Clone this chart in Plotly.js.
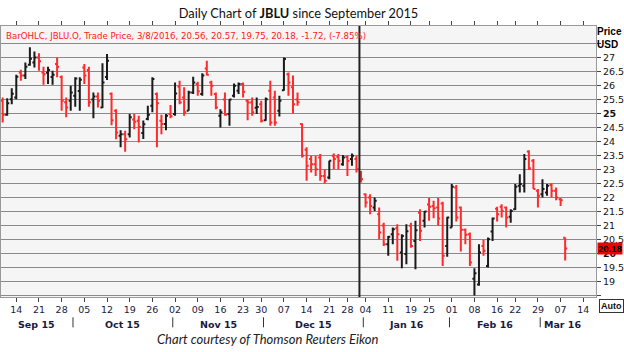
<!DOCTYPE html>
<html>
<head>
<meta charset="utf-8">
<script src="https://cdn.plot.ly/plotly-3.0.1.min.js"></script>
<style>html,body{margin:0;padding:0;background:#fff}#chart{width:624px;height:352px}</style>
</head>
<body>
<div id="chart"></div>
<script>
// Trading sessions (category x axis)
const dates = [
'2015-09-09','2015-09-10','2015-09-11','2015-09-14','2015-09-15','2015-09-16','2015-09-17','2015-09-18',
'2015-09-21','2015-09-22','2015-09-23','2015-09-24','2015-09-25','2015-09-28','2015-09-29','2015-09-30',
'2015-10-01','2015-10-02','2015-10-05','2015-10-06','2015-10-07','2015-10-08','2015-10-09',
'2015-10-12','2015-10-13','2015-10-14','2015-10-15','2015-10-16','2015-10-19','2015-10-20','2015-10-21','2015-10-22','2015-10-23',
'2015-10-26','2015-10-27','2015-10-28','2015-10-29','2015-10-30',
'2015-11-02','2015-11-03','2015-11-04','2015-11-05','2015-11-06','2015-11-09','2015-11-10','2015-11-11','2015-11-12','2015-11-13',
'2015-11-16','2015-11-17','2015-11-18','2015-11-19','2015-11-20','2015-11-23','2015-11-24','2015-11-25','2015-11-27','2015-11-30',
'2015-12-01','2015-12-02','2015-12-03','2015-12-04','2015-12-07','2015-12-08','2015-12-09','2015-12-10','2015-12-11',
'2015-12-14','2015-12-15','2015-12-16','2015-12-17','2015-12-18','2015-12-21','2015-12-22','2015-12-23','2015-12-24',
'2015-12-28','2015-12-29','2015-12-30','2015-12-31',
'2016-01-04','2016-01-05','2016-01-06','2016-01-07','2016-01-08','2016-01-11','2016-01-12','2016-01-13','2016-01-14','2016-01-15',
'2016-01-19','2016-01-20','2016-01-21','2016-01-22','2016-01-25','2016-01-26','2016-01-27','2016-01-28','2016-01-29',
'2016-02-01','2016-02-02','2016-02-03','2016-02-04','2016-02-05','2016-02-08','2016-02-09','2016-02-10','2016-02-11','2016-02-12',
'2016-02-16','2016-02-17','2016-02-18','2016-02-19','2016-02-22','2016-02-23','2016-02-24','2016-02-25','2016-02-26','2016-02-29',
'2016-03-01','2016-03-02','2016-03-03','2016-03-04','2016-03-07','2016-03-08'
];
const open = [
25.45,24.95,25.51,25.57,26.46,26.35,26.74,26.82,27.00,26.46,26.45,26.30,26.76,26.30,25.40,25.45,
25.63,25.80,26.64,26.55,25.50,25.60,25.21,26.30,25.70,25.10,24.20,24.26,24.26,24.78,24.74,24.30,24.80,
25.27,25.69,24.74,24.62,24.98,
24.98,25.95,25.57,25.10,25.75,26.05,25.69,26.60,26.10,25.69,24.92,25.50,24.98,25.63,25.81,26.05,25.45,25.39,25.20,25.33,
24.76,25.81,25.57,25.10,25.83,26.40,25.93,25.50,24.62,23.70,23.37,23.19,23.43,22.77,22.71,23.49,23.45,23.19,23.45,23.37,23.37,22.77,
22.12,22.00,21.64,21.40,21.00,20.33,20.69,20.90,20.04,19.98,20.99,20.45,21.46,21.17,21.75,21.70,21.64,21.79,20.27,
20.93,22.36,21.64,20.85,20.69,19.10,18.90,20.27,19.56,20.79,21.60,21.67,21.64,21.31,21.58,22.42,22.42,23.64,23.31,22.24,
22.12,22.18,22.45,22.24,21.94,20.56
];
const high = [
25.57,25.54,25.90,26.38,26.56,26.82,27.36,27.21,27.15,26.67,26.67,26.52,27.00,26.35,25.57,25.99,
26.29,26.29,26.76,26.67,25.75,25.75,26.79,27.12,25.75,25.15,24.40,24.38,24.98,24.98,24.92,24.75,25.27,
26.29,25.75,24.95,24.98,25.30,
26.10,26.17,25.93,25.81,26.31,26.13,26.43,26.88,26.17,25.75,25.15,25.75,25.51,26.07,26.10,26.10,25.51,25.57,25.57,25.45,
25.57,26.17,25.81,25.63,27.00,26.46,26.35,25.75,24.65,23.79,23.49,23.49,23.55,23.01,23.31,23.57,23.55,23.52,23.49,23.57,23.49,22.95,
22.14,22.12,22.00,21.64,21.10,20.63,20.93,21.05,20.69,21.05,21.10,21.17,21.58,21.52,21.98,21.88,21.98,21.85,21.31,
22.48,22.45,21.68,20.89,20.75,19.48,20.33,20.48,20.57,21.29,21.67,21.76,21.68,21.58,22.48,22.83,23.55,23.69,23.37,22.30,
22.65,22.48,22.51,22.36,21.98,20.57
];
const low = [
24.68,24.92,25.33,25.51,26.17,26.23,26.70,26.64,26.52,26.02,26.05,26.02,26.29,25.10,24.86,25.10,
25.24,25.10,26.05,25.24,24.83,25.21,25.19,26.19,24.58,24.08,23.79,23.63,24.14,24.44,23.96,24.09,24.76,
25.04,23.79,24.26,24.40,24.83,
24.92,25.33,24.92,25.10,25.69,25.63,25.63,26.35,25.63,25.15,24.50,24.92,24.56,25.57,25.69,25.57,24.76,24.92,24.98,24.68,
24.74,24.56,24.56,24.89,25.81,25.63,25.00,25.27,23.43,22.60,22.89,22.77,22.60,22.50,22.65,23.01,23.01,23.13,22.77,23.13,22.89,22.54,
21.64,21.40,21.52,20.51,20.27,19.92,20.33,19.74,19.48,19.62,20.21,19.44,20.45,20.93,21.17,21.26,20.99,19.56,19.89,
20.93,21.14,20.07,20.33,19.56,18.50,18.85,19.92,19.50,20.45,21.14,21.29,20.93,21.10,21.55,22.18,22.18,22.98,22.30,21.64,
22.00,22.06,22.00,21.90,21.70,19.75
];
const close = [
24.95,25.36,25.70,26.31,26.35,26.67,26.95,27.00,26.86,26.40,26.55,26.38,26.67,25.45,25.21,25.75,
26.25,26.20,26.35,25.40,25.60,25.45,26.10,26.88,24.76,24.32,24.26,24.08,24.86,24.70,24.52,24.61,24.95,
26.23,25.36,24.62,24.92,24.90,
25.71,25.39,25.04,25.75,26.10,25.79,26.35,26.38,25.99,25.21,25.04,24.95,25.50,25.99,26.05,25.77,25.39,25.04,25.23,24.74,
25.51,24.68,24.68,25.45,26.94,26.10,25.33,25.40,23.49,23.13,23.19,23.01,22.77,22.60,23.31,23.37,23.31,23.43,23.31,23.49,23.01,22.65,
21.82,21.70,21.88,20.75,20.33,20.60,20.87,20.69,20.63,20.80,20.27,20.83,20.81,21.50,21.67,21.62,21.25,19.92,21.29,
22.38,21.29,20.85,20.67,19.68,19.30,20.04,20.10,20.51,21.25,21.40,21.52,21.29,21.52,22.38,22.48,23.37,23.04,22.30,22.06,
22.30,22.42,22.24,22.00,21.90,20.18
];

// Axis tick labels
const tickDates = ['2015-09-14','2015-09-21','2015-09-28','2015-10-05','2015-10-12','2015-10-19','2015-10-26',
 '2015-11-02','2015-11-09','2015-11-16','2015-11-23','2015-11-30','2015-12-07','2015-12-14','2015-12-21','2015-12-28',
 '2016-01-04','2016-01-11','2016-01-19','2016-01-25','2016-02-01','2016-02-08','2016-02-16','2016-02-22','2016-02-29',
 '2016-03-07','2016-03-14'];
const tickText = ['14','21','28','05','12','19','26','02','09','16','23','30','07','14','21','28','04','11','19','25','01','08','16','22','29','07','14'];
const monthKeys = ['2015-09','2015-10','2015-11','2015-12','2016-01','2016-02','2016-03'];
const monthLabels = ['Sep 15','Oct 15','Nov 15','Dec 15','Jan 16','Feb 16','Mar 16'];
const priceTicks = [18.5,19,19.5,20,20.5,21,21.5,22,22.5,23,23.5,24,24.5,25,25.5,26,26.5,27,27.5];
const priceText = ['','19','19.5','<b>20</b>','20.5','21','21.5','22','22.5','23','23.5','24','24.5','<b>25</b>','25.5','26','26.5','27',''];
const legendText = 'BarOHLC, JBLU.O, Trade Price, 3/8/2016, 20.56, 20.57, 19.75, 20.18, -1.72, (-7.85%)';

// index of a session (extrapolating weekdays past the last date)
function sessionIndex(d){
  const i = dates.indexOf(d);
  if (i >= 0) return i;
  let n = dates.length - 1;
  let t = Date.parse(dates[n] + 'T00:00:00Z');
  const target = Date.parse(d + 'T00:00:00Z');
  while (t < target) { t += 86400000; const wd = new Date(t).getUTCDay(); if (wd !== 0 && wd !== 6) n++; }
  return n;
}
const tickVals = tickDates.map(sessionIndex);

const annotations = [];
const shapes = [];
const fontAx = '"DejaVu Sans", Verdana, sans-serif';
const fontAr = '"Liberation Sans", Arial, sans-serif';
monthKeys.forEach((m, j) => {
  const idx = dates.map((d,i)=>d.startsWith(m)?i:-1).filter(i=>i>=0);
  let a = idx[0], b = idx[idx.length-1];
  if (j === monthKeys.length-1) b = tickVals[tickVals.length-1];
  annotations.push({xref:'x', yref:'paper', x:(a+b)/2, y:-0.103, yanchor:'middle', showarrow:false,
    text:'<b>'+monthLabels[j]+'</b>', font:{family:fontAx, size:9.5, color:'#1a1a40'}});
  if (j > 0) shapes.push({type:'line', xref:'x', yref:'paper', x0:a-0.5, x1:a-0.5, y0:-0.075, y1:-0.112,
    line:{color:'#333', width:1}});
});
// year separator
const yearIdx = sessionIndex('2015-12-31');
shapes.push({type:'line', xref:'x', yref:'paper', x0:yearIdx-0.35, x1:yearIdx-0.35, y0:0, y1:1, line:{color:'#222', width:2}});

annotations.push({xref:'paper', yref:'paper', x:0, y:1, xanchor:'left', yanchor:'top', xshift:3, yshift:-3, showarrow:false,
  text:legendText, font:{family:fontAx, size:8.6, color:'#ff2020'}});
annotations.push({xref:'paper', yref:'paper', x:1, y:1, xanchor:'left', yanchor:'middle', xshift:0, yshift:-5, showarrow:false,
  borderpad:0, text:'<b>Price</b>', font:{family:fontAr, size:10, color:'#000'}});
annotations.push({xref:'paper', yref:'paper', x:1, y:1, xanchor:'left', yanchor:'middle', xshift:0, yshift:-18, showarrow:false,
  borderpad:0, text:'<b>USD</b>', font:{family:fontAr, size:10, color:'#000'}});
annotations.push({xref:'paper', yref:'y', x:1, y:close[close.length-1], xanchor:'left', yanchor:'middle', xshift:1, showarrow:false,
  text:'<b>'+close[close.length-1].toFixed(2)+'</b>', bgcolor:'#ee0000', borderpad:0, font:{family:fontAr, size:9.5, color:'#000'}});
annotations.push({xref:'paper', yref:'paper', x:1, y:0, xanchor:'left', yanchor:'top', xshift:3, yshift:-2, showarrow:false,
  text:'<b>Auto</b>', bordercolor:'#333', borderwidth:1, borderpad:1, bgcolor:'#ffffff', font:{family:fontAr, size:9, color:'#111'}});
annotations.push({xref:'paper', yref:'paper', x:0.449, y:-0.155, yanchor:'middle', showarrow:false,
  text:'<i>Chart courtesy of Thomson Reuters Eikon</i>', font:{family:'Lato, sans-serif', size:13, color:'#222'}});

const trace = {
  type:'ohlc', x:dates, open:open, high:high, low:low, close:close,
  increasing:{line:{color:'#1a1a1a', width:2}},
  decreasing:{line:{color:'#ff2a2a', width:2}},
  tickwidth:0.45, hoverinfo:'skip'
};

const layout = {
  width:624, height:352,
  margin:{l:1, r:28, t:26, b:55},
  paper_bgcolor:'#ffffff', plot_bgcolor:'#f5f5f5',
  showlegend:false,
  title:{text:'Daily Chart of <b>JBLU</b> since September 2015', x:0.5, xref:'paper', xanchor:'center', y:0.962, yanchor:'middle',
    font:{family:'Lato, sans-serif', size:12.8, color:'#111'}},
  xaxis:{type:'category', range:[-0.37, 130.8], rangeslider:{visible:false}, showgrid:false, zeroline:false,
    tickmode:'array', tickvals:tickVals, ticktext:tickText, ticks:'outside', ticklen:4, tickcolor:'#444',
    showline:true, linecolor:'#999', linewidth:1, mirror:'ticks',
    tickfont:{family:fontAx, size:9.5, color:'#1a1a40'}, fixedrange:true},
  yaxis:{side:'right', range:[18.45, 28.12], tickmode:'array', tickvals:priceTicks, ticktext:priceText,
    ticks:'outside', ticklen:4, tickcolor:'#444', showgrid:true, gridcolor:'#8a8a8a', gridwidth:1.5,
    showline:true, linecolor:'#999', linewidth:1, mirror:true, zeroline:false,
    tickfont:{family:fontAx, size:9.5, color:'#111'}, fixedrange:true},
  annotations:annotations, shapes:shapes
};
Plotly.newPlot('chart', [trace], layout, {staticPlot:true, displayModeBar:false});
</script>
</body>
</html>
